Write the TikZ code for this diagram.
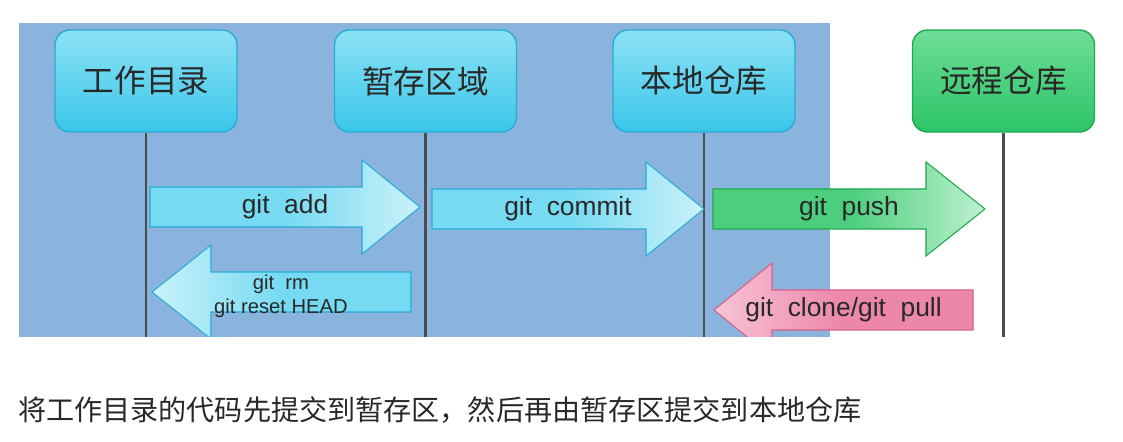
\documentclass[tikz,border=0pt]{standalone}
\usepackage{fontspec}
\setmainfont{Liberation Sans}
\newfontfamily\cjk{Noto Sans CJK SC}
\usepackage{tikz}
\usetikzlibrary{positioning,calc}
\definecolor{BgBlue}{RGB}{138,180,222}
\definecolor{CyanTop}{RGB}{140,226,244}
\definecolor{CyanBot}{RGB}{58,198,234}
\definecolor{CyanEdge}{RGB}{40,172,214}
\definecolor{CyanArrow}{RGB}{118,218,242}
\definecolor{GreenTop}{RGB}{110,222,150}
\definecolor{GreenBot}{RGB}{44,196,104}
\definecolor{GreenEdge}{RGB}{30,168,80}
\definecolor{GreenArrow}{RGB}{76,206,124}
\definecolor{PinkMain}{RGB}{236,134,170}
\definecolor{PinkLight}{RGB}{248,196,214}
\definecolor{PinkEdge}{RGB}{214,96,138}
\definecolor{InkGray}{RGB}{40,40,40}
\tikzset{cmdtext/.style={text=InkGray,font=\fontsize{15}{17}\selectfont,align=center,inner sep=0pt}}
% block arrow: style, tail x, head base x, tip x, y, name, text
\newcommand{\cmdarrow}[7]{%
  \draw[#1] (#2,{#5-20}) -- (#3,{#5-20}) -- (#3,{#5-47}) -- (#4,#5) -- (#3,{#5+47}) -- (#3,{#5+20}) -- (#2,{#5+20}) -- cycle;
  \node[cmdtext] (#6) at ({(#2+#4)/2},#5) {#7};
}

\begin{document}
\begin{tikzpicture}[x=0.02cm,y=-0.02cm]
		\tikzstyle{repobox}=[rectangle,rounded corners=0.3cm,minimum width=3.64cm,minimum height=2.04cm,line width=0.8pt,text=InkGray,font=\cjk\fontsize{18}{20}\selectfont]
		\tikzstyle{localbox}=[repobox,draw=CyanEdge,top color=CyanTop,bottom color=CyanBot]
		\tikzstyle{remotebox}=[repobox,draw=GreenEdge,top color=GreenTop,bottom color=GreenBot]
		\tikzstyle{lifeline}=[draw=black!70,line width=1.3pt]
		\tikzstyle{cyanright}=[draw=CyanEdge,line width=0.6pt,left color=CyanArrow,right color=CyanTop!45!white,middle color=CyanArrow]
		\tikzstyle{cyanleft}=[draw=CyanEdge,line width=0.6pt,left color=CyanTop!45!white,right color=CyanArrow,middle color=CyanArrow]
		\tikzstyle{greenright}=[draw=GreenEdge,line width=0.6pt,left color=GreenArrow,right color=GreenTop!45!white,middle color=GreenArrow]
		\tikzstyle{pinkleft}=[draw=PinkEdge,line width=0.6pt,left color=PinkLight,right color=PinkMain,middle color=PinkMain]

		\useasboundingbox (0,0) rectangle (1123,442);
		\fill[BgBlue] (19,23) rectangle (830,337);

		\foreach \x/\name/\txt/\sty in {146/W/工作目录/localbox, 425.5/S/暂存区域/localbox, 704/L/本地仓库/localbox, 1003.5/R/远程仓库/remotebox}
		{
			\node[\sty] (\name) at (\x,81) {\txt};
			\coordinate (\name end) at (\x,337);
			\draw[lifeline] (\name.south) -- (\name end);
		}

		\begin{scope}
			\clip (0,0) rectangle (1123,337);
			\cmdarrow{cyanright}{150}{362}{420}{207}{add}{git\ \ add}
			\cmdarrow{cyanright}{432}{646}{704}{209}{commit}{git\ \ commit}
			\cmdarrow{greenright}{713}{926}{985}{209}{push}{git\ \ push}
			\cmdarrow{cyanleft}{411}{211}{152}{292}{rm}{}
			\node[cmdtext,font=\fontsize{11.5}{13.6}\selectfont] (rmtext) at (281,296) {git\ \ rm\\git reset HEAD};
			\cmdarrow{pinkleft}{973}{772}{714}{310}{pull}{git\ \ clone/git\ \ pull}
		\end{scope}

		\node[anchor=west,text=InkGray,font=\cjk\fontsize{16}{18}\selectfont] (caption) at (12,410) {将工作目录的代码先提交到暂存区，然后再由暂存区提交到本地仓库};
\end{tikzpicture}
\end{document}
